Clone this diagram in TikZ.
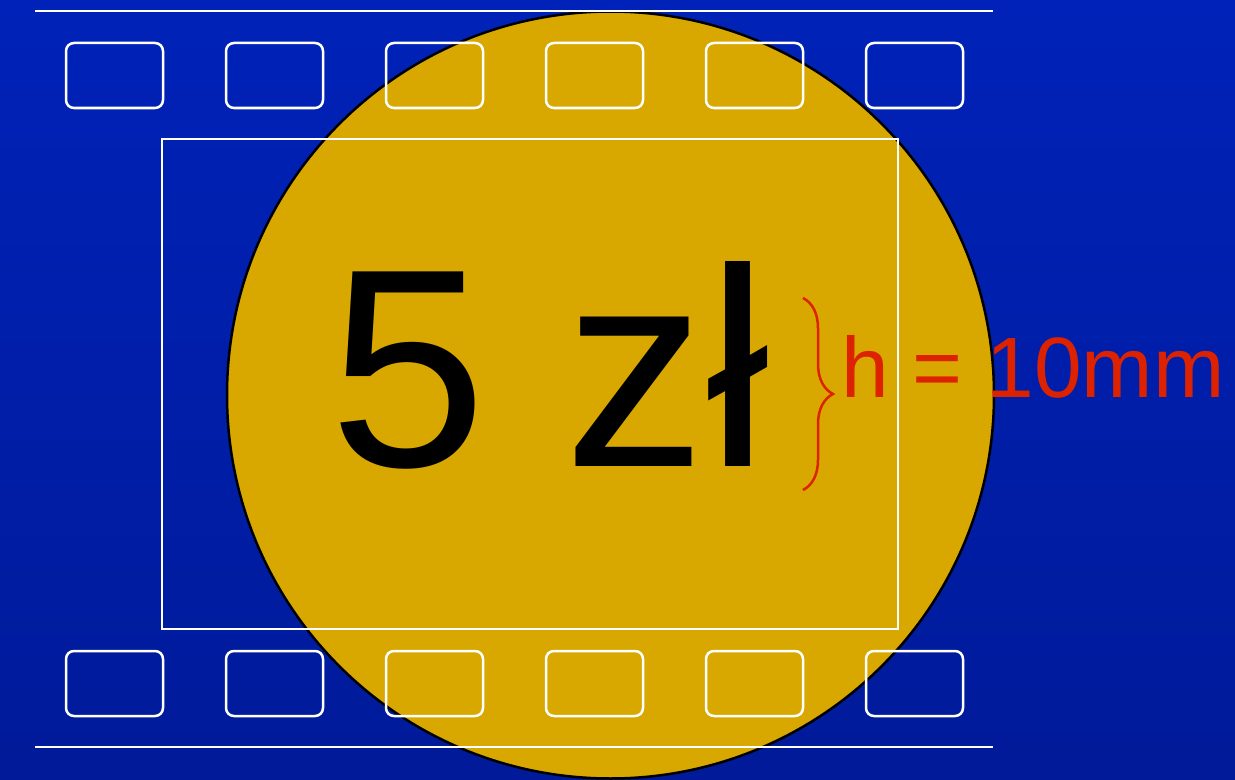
\documentclass[tikz,border=0pt]{standalone}
\usepackage{fontspec}
\setmainfont{Liberation Sans}
\usetikzlibrary{decorations.pathreplacing}
\definecolor{filmblue}{RGB}{0,34,184}
\definecolor{filmdark}{RGB}{0,26,153}
\definecolor{coingold}{RGB}{216,168,0}
\definecolor{sizered}{RGB}{221,34,0}

\begin{document}
\begin{tikzpicture}[x=1bp, y=-1bp, hole/.style={draw=white, line width=2.5bp, rounded corners=8bp}]
	\useasboundingbox (0,0) rectangle (1235,780);
	\shade[top color=filmblue, bottom color=filmdark] (0,0) rectangle (1235,780);
	% coin and its label
	\filldraw[fill=coingold, draw=black, line width=2.5bp] (610.5,395) circle (383.5);
	\node[anchor=base west, inner sep=0pt, font=\fontsize{284}{290}\selectfont] (value) at (329,466) {5 zł};
	% film frame
	\draw[white, line width=2.5bp] (162,139) rectangle (898,629);
	\foreach \x in {0,...,5} {
		\draw[hole] (66+160*\x,43) rectangle ++(97,65);
		\draw[hole] (66+160*\x,651) rectangle ++(97,65);
	}
	\draw[white, line width=2.5bp] (35,11) -- (993,11);
	\draw[white, line width=2.5bp] (35,747) -- (993,747);
	% letter height
	\coordinate (htop) at (803,298);
	\coordinate (hbot) at (803,490);
	\draw[sizered, line width=2.5bp, decorate, decoration={brace, amplitude=30bp}] (htop) -- (hbot);
	\node[anchor=base west, inner sep=0pt, text=sizered, font=\fontsize{86}{90}\selectfont] (height) at (841,397) {h = 10mm};
\end{tikzpicture}
\end{document}
